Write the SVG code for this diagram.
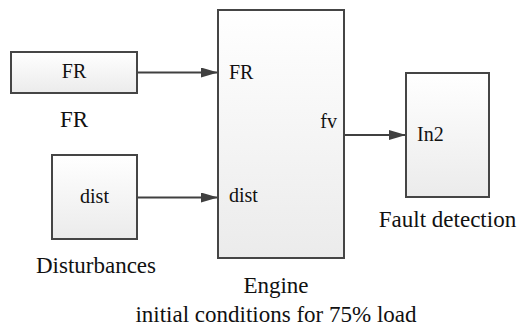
<svg xmlns="http://www.w3.org/2000/svg" width="523" height="334" viewBox="0 0 523 334">
<defs>
<linearGradient id="g" x1="0" y1="0" x2="0" y2="1">
<stop offset="0" stop-color="#ffffff"/>
<stop offset="1" stop-color="#ebebeb"/>
</linearGradient>
<marker id="ah" markerWidth="17" markerHeight="10" refX="17" refY="5" orient="auto" markerUnits="userSpaceOnUse">
<path d="M0,0 L17,5 L0,10 Z" fill="#404040"/>
</marker>
<style>
.box{fill:url(#g);stroke:#454545;stroke-width:2}
text{font-family:'Liberation Serif','Times New Roman',serif;fill:#111}
.in{font-size:20px}
.out{font-size:23px}
.c{stroke:#404040;stroke-width:2;fill:none}
</style>
</defs>
<rect width="523" height="334" fill="#ffffff"/>
<g id="connectors">
<line class="c" x1="137" y1="72.5" x2="218" y2="72.5" marker-end="url(#ah)"/>
<line class="c" x1="137" y1="197.5" x2="218" y2="197.5" marker-end="url(#ah)"/>
<line class="c" x1="344" y1="135" x2="406" y2="135" marker-end="url(#ah)"/>
</g>
<g id="FR">
<rect class="box" x="11" y="52" width="126" height="41"/>
<text class="in" x="74" y="78" text-anchor="middle">FR</text>
<text class="out" x="74" y="127" text-anchor="middle">FR</text>
</g>
<g id="Disturbances">
<rect class="box" x="52" y="155" width="85" height="84"/>
<text class="in" x="94.5" y="203" text-anchor="middle">dist</text>
<text class="out" x="96" y="273" text-anchor="middle">Disturbances</text>
</g>
<g id="Engine">
<rect class="box" x="218" y="10" width="126" height="248"/>
<text class="in" x="229" y="79">FR</text>
<text class="in" x="229" y="202">dist</text>
<text class="in" x="337" y="128" text-anchor="end">fv</text>
<text class="out" x="276" y="293" text-anchor="middle">Engine</text>
<text class="out" x="276" y="322" text-anchor="middle">initial conditions for 75% load</text>
</g>
<g id="FaultDetection">
<rect class="box" x="406" y="73" width="83" height="124"/>
<text class="in" x="417" y="141">In2</text>
<text class="out" x="447.5" y="227" text-anchor="middle">Fault detection</text>
</g>
</svg>
